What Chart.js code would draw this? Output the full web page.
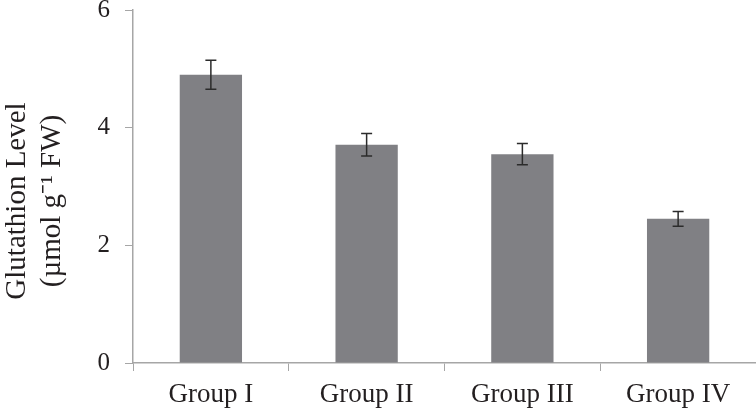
<!DOCTYPE html>
<html>
<head>
<meta charset="utf-8">
<script src="https://cdn.jsdelivr.net/npm/chart.js@4"></script>
<style>
    html, body { margin: 0; padding: 0; background: #fff; }
    #wrap { width: 756px; height: 412px; }
</style>
</head>
<body>
<div id="wrap"><canvas id="chart-glutathion"></canvas></div>
<script>
// values
const groups = ['Group I', 'Group II', 'Group III', 'Group IV'];
const glutathion = [4.90, 3.71, 3.55, 2.45];
const glutathionErr = [0.245, 0.19, 0.18, 0.125];
const yTicks = [0, 2, 4, 6];

const AXIS_GREY = '#a6a6a6';
const TEXT = '#231f20';

// draws the +/- error whiskers on top of the bars
const errorBars = {
    id: 'errorBars',
    afterDatasetsDraw(chart) {
        const { ctx, scales: { y } } = chart;
        const meta = chart.getDatasetMeta(0);
        ctx.save();
        ctx.strokeStyle = '#2b2b2b';
        ctx.lineWidth = 1.5;
        meta.data.forEach((bar, i) => {
            const top = y.getPixelForValue(glutathion[i] + glutathionErr[i]);
            const bot = y.getPixelForValue(glutathion[i] - glutathionErr[i]);
            const x = bar.x;
            ctx.beginPath();
            ctx.moveTo(x, top); ctx.lineTo(x, bot);
            ctx.moveTo(x - 5.5, top); ctx.lineTo(x + 5.5, top);
            ctx.moveTo(x - 5.5, bot); ctx.lineTo(x + 5.5, bot);
            ctx.stroke();
        });
        ctx.restore();
    },
};

new Chart(document.getElementById('chart-glutathion'), {
    type: 'bar',
    data: {
        labels: groups,
        datasets: [{
            data: glutathion,
            backgroundColor: '#808084',
            borderWidth: 0,
            categoryPercentage: 1,
            barPercentage: 0.4,
        }],
    },
    options: {
        responsive: true,
        maintainAspectRatio: false,
        animation: false,
        layout: { padding: { top: 10, right: 0, left: 0, bottom: 0 } },
        plugins: {
            legend: { display: false },
            tooltip: { enabled: false },
        },
        scales: {
            x: {
                grid: {
                    offset: true,
                    drawOnChartArea: false,
                    drawTicks: true,
                    tickLength: 8,
                    color: AXIS_GREY,
                },
                border: { color: AXIS_GREY, width: 1.5 },
                ticks: {
                    color: TEXT,
                    padding: 8,
                    font: { family: 'Liberation Serif', size: 27 },
                },
                afterFit(scale) { scale.height = 49; },
            },
            y: {
                min: 0,
                max: 6,
                afterBuildTicks(scale) { scale.ticks = yTicks.map(v => ({ value: v })); },
                grid: {
                    drawOnChartArea: false,
                    drawTicks: true,
                    tickLength: 8,
                    color: AXIS_GREY,
                },
                border: { color: AXIS_GREY, width: 1.5 },
                ticks: {
                    color: TEXT,
                    padding: 15,
                    font: { family: 'Liberation Serif', size: 25 },
                },
                title: {
                    display: true,
                    // trailing spaces nudge the rotated text down like the original
                    text: ['Glutathion Level    ', '(\u00b5mol g\u207b\u00b9 FW)    '],
                    color: TEXT,
                    padding: { top: 0, bottom: 0 },
                    font: { family: 'Liberation Serif', size: 29, lineHeight: 1.2 },
                },
                afterFit(scale) {
                    scale.width = 133;
                    // the "6" label may poke above the plot, like the original
                    scale.paddingTop = 0;
                    scale.paddingBottom = 0;
                },
            },
        },
    },
    plugins: [errorBars],
});
</script>
</body>
</html>
